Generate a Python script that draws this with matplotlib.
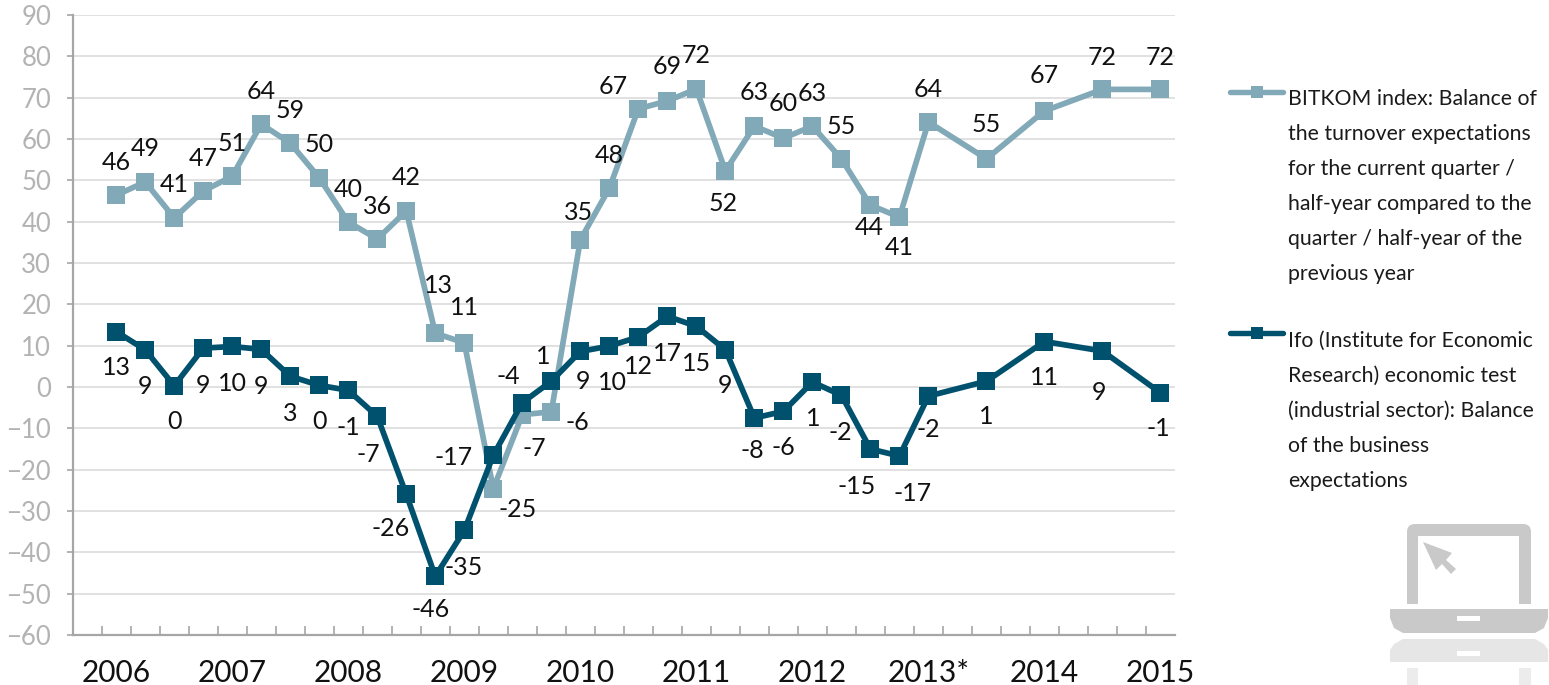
# -*- coding: utf-8 -*-
import numpy as np
import matplotlib
matplotlib.use('Agg')
import matplotlib.pyplot as plt
from matplotlib.patches import Polygon, Rectangle, FancyBboxPatch

plt.rcParams['font.family'] = ['Lato', 'DejaVu Sans']

# chart data, x is the quarter counted from 2006 (half years after 2013)
quarters = [0,1,2,3,4,5,6,7,8,9,10,11,12,13,14,15,16,17,18,19,20,21,22,23,24,25,26,27,28,30,32,34,36]
bitkom = [46.4,49.6,40.9,47.4,51,63.6,59,50.6,39.9,35.8,42.6,13,10.7,-24.6,-6.7,-6,35.6,48.1,67.3,69.2,72.1,52.3,63.1,60.2,63.1,55.2,44,41.1,64.1,55.2,66.8,72,72]
ifo = [13.4,9,0.3,9.4,9.8,9.1,2.6,0.4,-0.8,-7.1,-26,-45.8,-34.7,-16.5,-3.8,1.4,8.6,9.9,12.1,17.1,14.7,9,-7.5,-5.9,1.2,-2,-15,-16.7,-2.2,1.4,11,8.7,-1.4]
bitkom_labels = [46,49,41,47,51,64,59,50,40,36,42,13,11,-25,-7,-6,35,48,67,69,72,52,63,60,63,55,44,41,64,55,67,72,72]
ifo_labels = [13,9,0,9,10,9,3,0,-1,-7,-26,-46,-35,-17,-4,1,9,10,12,17,15,9,-8,-6,1,-2,-15,-17,-2,1,11,9,-1]
year_ticks = [0,4,8,12,16,20,24,28,32,36]
year_labels = ['2006','2007','2008','2009','2010','2011','2012','2013*','2014','2015']
y_ticks = list(range(-60,100,10))

bitkom_text = ['BITKOM index: Balance of','the turnover expectations','for the current quarter /',
               'half-year compared to the','quarter / half-year of the','previous year']
ifo_text = ['Ifo (Institute for Economic','Research) economic test','(industrial sector): Balance',
            'of the business','expectations']

# label offsets from the marker in pixels (dx, dy up)
bitkom_off = [(0,33)]*11 + [(3,48),(0,35),(24,-21),(12,-34),(26,-11),(-2,27),(0,33),(-25,22),(0,34),(0,33),
              (-2,-33),(0,34),(0,35),(0,33),(0,32),(-1,-22),(0,-30),(0,33),(0,34),(0,35),(0,32),(0,32)]
ifo_off = [(0,-36),(0,-37),(0,-36),(0,-37),(0,-37),(0,-37),(0,-37),(0,-36),(0,-37),(-9,-38),(-16,-34),
           (-5,-33),(-1,-37),(-40,-2),(-14,26),(-8,25),(3,-30),(3,-36),(0,-30),(0,-37),(0,-37),(0,-36),
           (-2,-33),(0,-36),(1,-36),(-1,-37),(-14,-37),(13,-37),(0,-33),(0,-35),(0,-36),(-3,-41),(-2,-36)]

light = '#82a9b8'
dark = '#00516e'
grey = '#b3b3b3'
W, H = 1549, 685

fig = plt.figure(figsize=(W/100, H/100), dpi=100, facecolor='white')
ax = fig.add_axes([72.7/W, 1-635/H, (1175-72.7)/W, 620/H])
ax.set_xlim(-1.5, 36.5)
ax.set_ylim(-60, 90)

for s in ['top','right']:
    ax.spines[s].set_visible(False)
for s in ['left','bottom']:
    ax.spines[s].set_color('#a6a6a6')
    ax.spines[s].set_linewidth(1.6)

ax.set_yticks(y_ticks)
ax.tick_params(axis='y', length=4.5, width=1.2, color='#a6a6a6', labelcolor=grey, labelsize=18.5, pad=11)
ax.set_xticks(year_ticks)
ax.set_xticklabels(year_labels)
ax.tick_params(axis='x', which='major', length=0, labelsize=21.5, labelcolor='#111111', pad=17)
ax.set_xticks(np.arange(-0.5, 36.5, 1), minor=True)
ax.tick_params(axis='x', which='minor', direction='in', length=6.5, width=1.2, color='#a6a6a6')
ax.yaxis.grid(True, color='#dcdcdc', lw=1.2)
ax.set_axisbelow(True)

ax.plot(quarters, bitkom, '-s', color=light, lw=4.1, ms=13, mew=0, clip_on=False, zorder=3)
ax.plot(quarters, ifo, '-s', color=dark, lw=4.1, ms=13, mew=0, clip_on=False, zorder=4)

for xs, ys, labels, offs in [(quarters, bitkom, bitkom_labels, bitkom_off), (quarters, ifo, ifo_labels, ifo_off)]:
    for xx, yy, lab, off in zip(xs, ys, labels, offs):
        ax.annotate(str(lab), (xx, yy), xytext=off, textcoords='offset pixels', ha='center', va='center',
                    fontsize=18, color='#111111', zorder=5)

# overlay in pixel coords for the legend and the laptop icon
ov = fig.add_axes([0, 0, 1, 1], facecolor='none')
ov.set_xlim(0, W)
ov.set_ylim(H, 0)
ov.axis('off')

for yy, col, lines, start in [(92, light, bitkom_text, 99), (333, dark, ifo_text, 341)]:
    ov.plot([1230, 1283], [yy, yy], color=col, lw=3.9, solid_capstyle='round')
    ov.plot([1257], [yy], 's', color=col, ms=9, mew=0)
    for ii, line in enumerate(lines):
        ov.text(1288, start + ii*34.9, line, fontsize=15.3, color='#1a1a1a', va='center', ha='left')

icon = '#c9c9c9'
pale = '#e6e6e6'
ov.add_patch(FancyBboxPatch((1413, 530), 112, 90, boxstyle='round,pad=6,rounding_size=8', fc=icon, ec='none'))
ov.add_patch(Rectangle((1418, 536), 101, 90, fc='white', ec='none'))
ov.add_patch(Rectangle((1400, 604), 140, 5, fc='white', ec='none'))
ov.add_patch(Polygon([(1423,542),(1452,553),(1446,560),(1456,569),(1451,574),(1442,564),(1436,570)], fc=icon, ec='none'))
ov.add_patch(Polygon([(1390,609),(1548,609),(1548,618),(1544,628),(1535,633),(1403,633),(1394,628),(1390,618)], fc=icon, ec='none'))
ov.add_patch(Rectangle((1457, 616), 23, 5, fc='white', ec='none'))
ov.add_patch(Polygon([(1390,662),(1548,662),(1548,650),(1544,644),(1535,639),(1403,639),(1394,644),(1390,650)], fc=pale, ec='none'))
ov.add_patch(Rectangle((1457, 651), 23, 5, fc='white', ec='none'))
ov.add_patch(Rectangle((1407, 668), 11, 17, fc='#ececec', ec='none'))
ov.add_patch(Rectangle((1519, 668), 12, 17, fc='#ececec', ec='none'))

fig.savefig('out.png', dpi=100, facecolor='white')
